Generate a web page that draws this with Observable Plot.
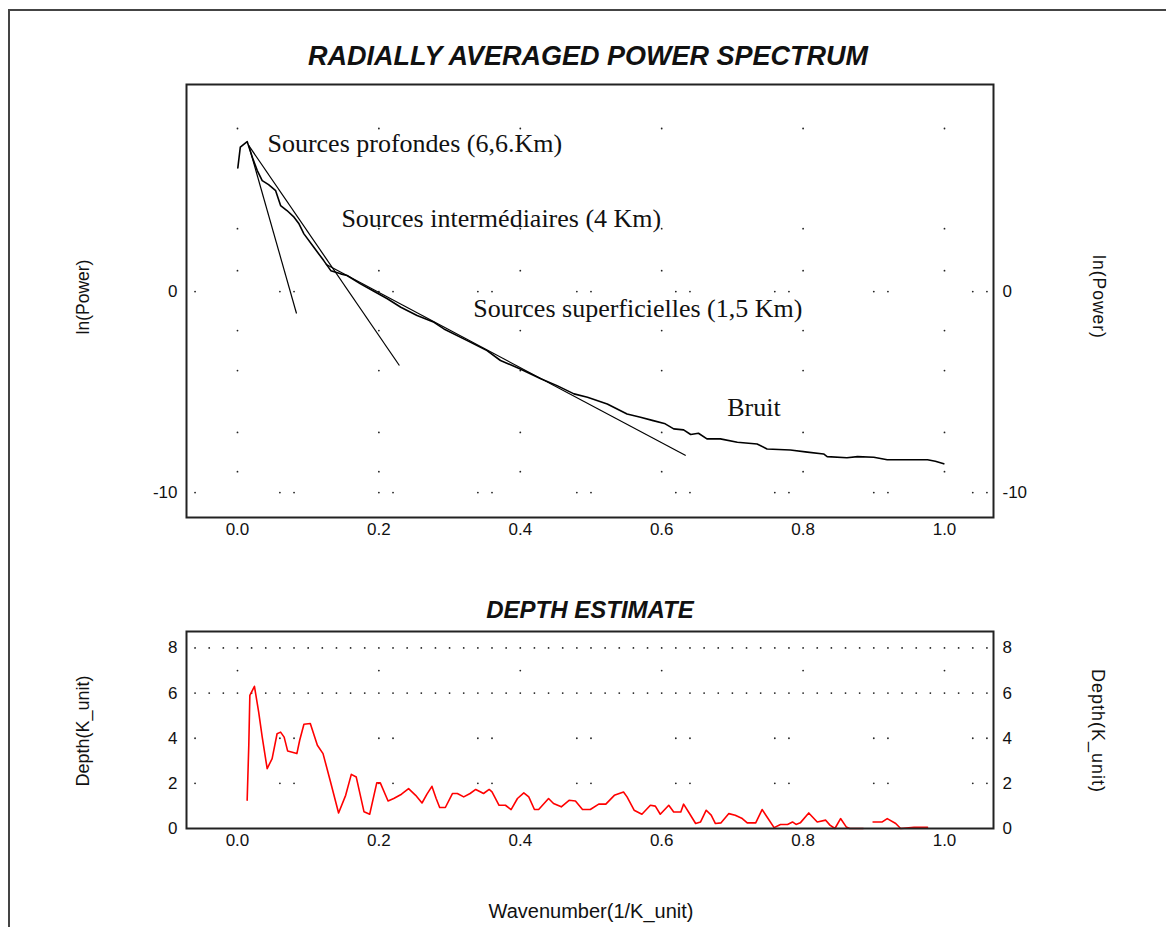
<!DOCTYPE html>
<html><head><meta charset="utf-8">
<script src="https://cdn.jsdelivr.net/npm/d3@7"></script>
<script src="https://cdn.jsdelivr.net/npm/@observablehq/plot@0.6"></script>
<style>
body{margin:0;background:#fff;}
#wrap{position:relative;width:1166px;height:927px;overflow:hidden;font-family:"Liberation Sans",Arial,sans-serif;background:#fff;}
#border{position:absolute;left:8px;top:9px;width:1200px;height:1000px;border-left:2px solid #444;border-top:2px solid #444;}
.title{position:absolute;font-weight:bold;font-style:italic;color:#111;transform:translate(-50%,-50%);white-space:nowrap;}
.lab{position:absolute;font-size:17.5px;color:#111;white-space:nowrap;}
.plot{position:absolute;left:0;}
</style></head><body>
<div id="wrap">
  <div id="border"></div>
  <div class="title" style="left:588px;top:56px;font-size:27px;">RADIALLY AVERAGED POWER SPECTRUM</div>
  <div class="title" style="left:590px;top:610px;font-size:24px;">DEPTH ESTIMATE</div>
  <div class="lab" style="left:83px;top:297px;transform:translate(-50%,-50%) rotate(-90deg);">ln(Power)</div>
  <div class="lab" style="left:1098px;top:297px;transform:translate(-50%,-50%) rotate(90deg);letter-spacing:1px;">ln(Power)</div>
  <div class="lab" style="left:83px;top:731px;transform:translate(-50%,-50%) rotate(-90deg);font-size:18px;">Depth(K_unit)</div>
  <div class="lab" style="left:1097px;top:731px;transform:translate(-50%,-50%) rotate(90deg);letter-spacing:1px;font-size:18px;">Depth(K_unit)</div>
  <div class="lab" style="left:591px;top:911px;transform:translate(-50%,-50%);font-size:20px;">Wavenumber(1/K_unit)</div>
  <div id="top" class="plot" style="top:0;"></div>
  <div id="bottom" class="plot" style="top:560px;"></div>
</div>
<script>
// ---- Radially averaged power spectrum ----
const specWavenumber = [0.0005,0.004,0.008,0.0137,0.021,0.028,0.035,0.044,0.054,0.061,0.070,0.080,0.087,0.094,0.108,0.122,0.132,0.146,0.155,0.174,0.191,0.212,0.231,0.254,0.278,0.292,0.325,0.353,0.372,0.400,0.429,0.452,0.476,0.495,0.523,0.551,0.570,0.588,0.605,0.617,0.631,0.641,0.652,0.664,0.683,0.707,0.735,0.749,0.782,0.806,0.829,0.834,0.862,0.877,0.900,0.919,0.976,0.987,0.999];
const specLnPower = [6.15,7.18,7.30,7.46,6.68,6.02,5.52,5.32,5.02,4.28,4.03,3.70,3.37,2.87,2.20,1.54,1.04,0.88,0.80,0.38,0.05,-0.36,-0.78,-1.19,-1.53,-1.86,-2.44,-2.94,-3.43,-3.85,-4.34,-4.68,-5.09,-5.26,-5.59,-6.09,-6.25,-6.42,-6.58,-6.83,-6.88,-7.11,-7.05,-7.33,-7.33,-7.50,-7.58,-7.83,-7.88,-7.99,-8.08,-8.21,-8.27,-8.21,-8.24,-8.37,-8.37,-8.44,-8.57];

// fitted straight segments
const fitNames = ["profondes","intermediaires","superficielles"];
const fitX1 = [0.016, 0.016, 0.125];
const fitY1 = [7.26, 7.26, 1.36];
const fitX2 = [0.0835, 0.229, 0.634];
const fitY2 = [-1.09, -3.68, -8.16];

// annotations
const annoText = ["Sources profondes (6,6.Km)","Sources intermédiaires (4 Km)","Sources superficielles (1,5 Km)","Bruit"];
const annoX = [0.0424, 0.147, 0.3334, 0.6926];
const annoY = [7.34, 3.61, -0.87, -5.76];

// ---- Depth estimate ----
const depthWavenumber = [0.0137,0.016,0.0175,0.024,0.030,0.035,0.042,0.049,0.056,0.061,0.066,0.071,0.084,0.088,0.094,0.103,0.113,0.121,0.131,0.143,0.153,0.161,0.168,0.179,0.187,0.197,0.202,0.213,0.221,0.232,0.242,0.252,0.261,0.268,0.275,0.281,0.286,0.294,0.304,0.311,0.320,0.329,0.337,0.344,0.348,0.356,0.360,0.370,0.379,0.387,0.396,0.405,0.412,0.420,0.426,0.440,0.447,0.458,0.469,0.478,0.488,0.499,0.511,0.521,0.533,0.546,0.551,0.561,0.572,0.584,0.591,0.598,0.610,0.617,0.627,0.631,0.638,0.648,0.655,0.663,0.670,0.676,0.684,0.695,0.704,0.714,0.721,0.733,0.742,0.749,0.759,0.768,0.778,0.785,0.790,0.796,0.808,0.820,0.832,0.838,0.845,0.853,0.861,0.866,0.885,0.892,0.899,0.912,0.919,0.931,0.938,0.957,0.976];
const depthValue = [1.25,3.69,5.90,6.30,5.16,4.05,2.65,3.10,4.20,4.27,4.05,3.43,3.32,3.91,4.62,4.65,3.69,3.32,2.14,0.69,1.47,2.40,2.28,0.74,0.63,2.02,2.02,1.22,1.33,1.52,1.77,1.47,1.13,1.52,1.87,1.33,0.93,0.93,1.55,1.55,1.40,1.55,1.73,1.62,1.55,1.73,1.62,1.03,1.03,0.84,1.33,1.58,1.40,0.84,0.84,1.33,1.11,0.96,1.25,1.22,0.84,0.84,1.08,1.08,1.47,1.62,1.40,0.81,0.63,1.03,0.99,0.63,1.03,0.73,0.73,1.08,0.73,0.22,0.29,0.81,0.59,0.22,0.25,0.66,0.59,0.44,0.25,0.25,0.84,0.51,0.04,0.18,0.18,0.29,0.18,0.25,0.69,0.29,0.37,0.15,0.0,0.44,0.07,0.0,0.0,null,0.29,0.29,0.44,0.22,0.0,0.05,0.05];

// axis ticks
const xTicks = [0,0.2,0.4,0.6,0.8,1.0];
const topYTicks = [0,-10];
const bottomYTicks = [0,2,4,6,8];

// dotted grid decoration
const topGridRows = [8.11,3.13,1.04,-1.94,-3.93,-7.01,-8.96];
const gridCols = [0,0.2,0.4,0.6,0.8,1.0];
const pairCols = [-0.06,0.06,0.08,0.20,0.22,0.34,0.36,0.48,0.50,0.62,0.64,0.76,0.78,0.90,0.92,1.04,1.06];
const topPairRows = [0,-10];
const bottomDenseRows = [8,6];
const bottomSingleRows = [7];
const bottomPairRows = [4,2];
const denseCols = d3.range(-0.06, 1.0601, 0.02);

const spectrum = specWavenumber.map((x,i)=>({x, y: specLnPower[i]}));
const fits = fitNames.map((n,i)=>({n, x1: fitX1[i], y1: fitY1[i], x2: fitX2[i], y2: fitY2[i]}));
const annos = annoText.map((t,i)=>({t, x: annoX[i], y: annoY[i]}));
const depth = depthWavenumber.map((x,i)=>({x, y: depthValue[i]}));
const cross = (xs, ys) => ys.flatMap(y => xs.map(x => ({x, y})));
const topGrid = [...cross(gridCols, topGridRows), ...cross(pairCols, topPairRows)];
const bottomGrid = [...cross(denseCols, bottomDenseRows), ...cross(gridCols, bottomSingleRows), ...cross(pairCols, bottomPairRows)];

const xDomain = [-0.0721, 1.0693];
const font = "Liberation Sans, Arial, sans-serif";
const plainNum = d => String(d);

const topPlot = Plot.plot({
  width: 1166, height: 560,
  marginTop: 84, marginBottom: 43, marginLeft: 186, marginRight: 173,
  x: {domain: xDomain},
  y: {domain: [-11.24, 10.3]},
  style: {fontFamily: font, fontSize: "17px", color: "#111", background: "transparent", overflow: "visible"},
  marks: [
    Plot.dot(topGrid, {x: "x", y: "y", r: 0.9, fill: "#222", stroke: null}),
    Plot.line(spectrum, {x: "x", y: "y", stroke: "#000", strokeWidth: 1.6}),
    Plot.link(fits, {x1: "x1", y1: "y1", x2: "x2", y2: "y2", stroke: "#000", strokeWidth: 1.2}),
    Plot.text(annos, {x: "x", y: "y", text: "t", textAnchor: "start", fontFamily: "Liberation Serif, Times New Roman, serif", fontSize: 26, fill: "#111"}),
    Plot.axisX({ticks: xTicks, tickFormat: d3.format(".1f"), tickSize: 0, tickPadding: 5, label: null, fontSize: 17}),
    Plot.axisY({ticks: topYTicks, tickFormat: plainNum, anchor: "left", tickSize: 0, tickPadding: 9, label: null, fontSize: 17}),
    Plot.axisY({ticks: topYTicks, tickFormat: plainNum, anchor: "right", tickSize: 0, tickPadding: 9, label: null, fontSize: 17}),
    Plot.frame({stroke: "#222", strokeWidth: 2})
  ]
});
document.getElementById("top").appendChild(topPlot);

const bottomPlot = Plot.plot({
  width: 1166, height: 367,
  marginTop: 71, marginBottom: 99, marginLeft: 186, marginRight: 173,
  x: {domain: xDomain},
  y: {domain: [0, 8.73]},
  style: {fontFamily: font, fontSize: "17px", color: "#111", background: "transparent", overflow: "visible"},
  marks: [
    Plot.dot(bottomGrid, {x: "x", y: "y", r: 0.9, fill: "#222", stroke: null}),
    Plot.line(depth, {x: "x", y: "y", stroke: "#ff0000", strokeWidth: 1.6}),
    Plot.axisX({ticks: xTicks, tickFormat: d3.format(".1f"), tickSize: 0, tickPadding: 5, label: null, fontSize: 17}),
    Plot.axisY({ticks: bottomYTicks, tickFormat: plainNum, anchor: "left", tickSize: 0, tickPadding: 9, label: null, fontSize: 17}),
    Plot.axisY({ticks: bottomYTicks, tickFormat: plainNum, anchor: "right", tickSize: 0, tickPadding: 9, label: null, fontSize: 17}),
    Plot.frame({stroke: "#222", strokeWidth: 2})
  ]
});
document.getElementById("bottom").appendChild(bottomPlot);
</script>
</body></html>
